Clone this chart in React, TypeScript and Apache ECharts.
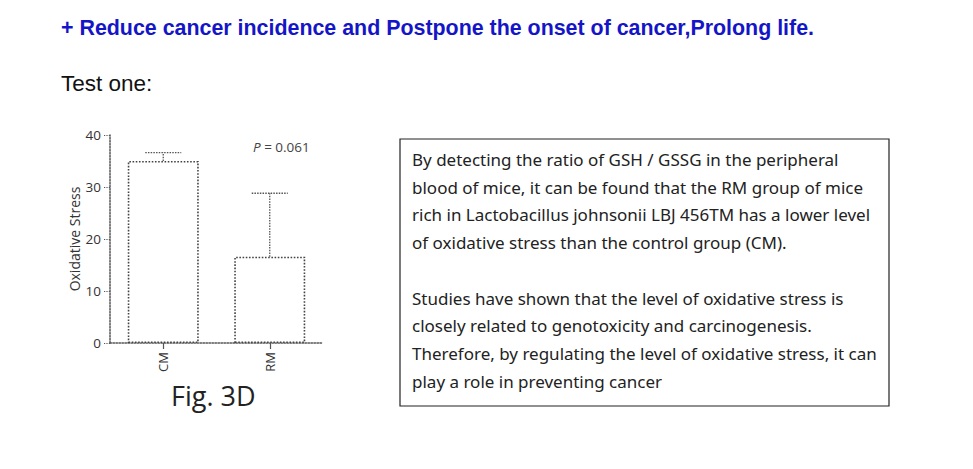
import React, { useEffect, useRef } from "react";
import * as echarts from "echarts";

const categories = ["CM", "RM"];
const means = [35, 16.6];
const upperErr = [36.6, 28.8];
const yMin = 0;
const yMax = 40;
const yInterval = 10;

const titleText = "+ Reduce cancer incidence and Postpone the onset of cancer,Prolong life.";
const subText = "Test one:";
const figLabel = "Fig. 3D";
const pValue = "0.061";
const yName = "Oxidative Stress";
const paragraphLines = [
  "By detecting the ratio of GSH / GSSG in the peripheral",
  "blood of mice, it can be found that the RM group of mice",
  "rich in Lactobacillus johnsonii LBJ 456TM has a lower level",
  "of oxidative stress than the control group (CM).",
  "",
  "Studies have shown that the level of oxidative stress is",
  "closely related to genotoxicity and carcinogenesis.",
  "Therefore, by regulating the level of oxidative stress, it can",
  "play a role in preventing cancer",
];

export default function App() {
  const ref = useRef<HTMLDivElement>(null);
  useEffect(() => {
    if (!ref.current) return;
    const chart = echarts.init(ref.current, null, { renderer: "svg" });
    const axisColor = "#555";
    const chartFont = "Open Sans";
    const paraFont = "Noto Sans";
    const lineGap = 27.7;

    const paraGraphics = paragraphLines
      .map((t, i) => ({ t, i }))
      .filter((o) => o.t.length > 0)
      .map((o) => ({
        type: "text",
        left: 412,
        top: 161 + o.i * lineGap - 10,
        style: {
          text: o.t,
          fontFamily: paraFont,
          fontSize: 17,
          fill: "#222",
        },
      }));

    chart.setOption({
      animation: false,
      backgroundColor: "#fff",
      grid: { left: 110, top: 135, width: 213, height: 208 },
      xAxis: {
        type: "category",
        data: categories,
        axisLine: { show: true, lineStyle: { color: axisColor, width: 1.5, type: "dotted" } },
        axisTick: { show: true, alignWithLabel: true, length: 6, lineStyle: { color: axisColor, width: 1.2 } },
        axisLabel: {
          rotate: 90,
          fontFamily: chartFont,
          fontSize: 13,
          color: "#333",
          margin: 9,
        },
      },
      yAxis: {
        type: "value",
        min: yMin,
        max: yMax,
        interval: yInterval,
        name: yName,
        nameLocation: "middle",
        nameGap: 29,
        nameTextStyle: { fontFamily: chartFont, fontSize: 14, color: "#333" },
        axisLine: { show: true, lineStyle: { color: axisColor, width: 1.5, type: "dotted" } },
        axisTick: { show: true, length: 6, lineStyle: { color: axisColor, width: 1.2, type: "dotted" } },
        axisLabel: { fontFamily: chartFont, fontSize: 13.5, color: "#333", margin: 9 },
        splitLine: { show: false },
      },
      series: [
        {
          type: "bar",
          data: means,
          barWidth: 71,
          itemStyle: {
            color: "#fff",
            borderColor: "#444",
            borderWidth: 1.6,
            borderType: "dotted",
          },
          z: 2,
        },
        {
          type: "custom",
          data: categories.map((_, i) => [i, means[i], upperErr[i]]),
          z: 3,
          renderItem: (params: any, api: any) => {
            const base = api.coord([api.value(0), api.value(1)]);
            const top = api.coord([api.value(0), api.value(2)]);
            const half = 18;
            const st = { stroke: "#555", lineWidth: 1.3, lineDash: [1.5, 1.2] };
            return {
              type: "group",
              children: [
                { type: "line", shape: { x1: base[0], y1: base[1], x2: top[0], y2: top[1] }, style: st },
                { type: "line", shape: { x1: top[0] - half, y1: top[1], x2: top[0] + half, y2: top[1] }, style: st },
              ],
            };
          },
        },
      ],
      graphic: [
        {
          type: "text",
          left: 61,
          top: 17,
          style: {
            text: titleText,
            fontFamily: "Liberation Sans",
            fontWeight: "bold",
            fontSize: 21.4,
            fill: "#1515c8",
          },
        },
        {
          type: "text",
          left: 61,
          top: 72,
          style: {
            text: subText,
            fontFamily: "Liberation Sans",
            fontSize: 22.5,
            fill: "#111",
          },
        },
        {
          type: "text",
          left: 253,
          top: 140,
          style: {
            text: "{i|P} = " + pValue,
            fontFamily: chartFont,
            fontSize: 13.5,
            fill: "#444",
            rich: {
              i: { fontFamily: chartFont, fontStyle: "italic", fontSize: 13.5, fill: "#444" },
            },
          },
        },
        {
          type: "text",
          left: 171,
          top: 382,
          style: {
            text: figLabel,
            fontFamily: chartFont,
            fontSize: 27,
            fill: "#222",
          },
        },
        {
          type: "rect",
          shape: { x: 400, y: 139, width: 489, height: 267 },
          style: { fill: "none", stroke: "#222", lineWidth: 1.2 },
        },
        ...paraGraphics,
      ],
    });
    return () => chart.dispose();
  }, []);
  return (
    <div
      ref={ref}
      style={{ position: "absolute", left: 0, top: 0, width: 973, height: 469 }}
    />
  );
}
